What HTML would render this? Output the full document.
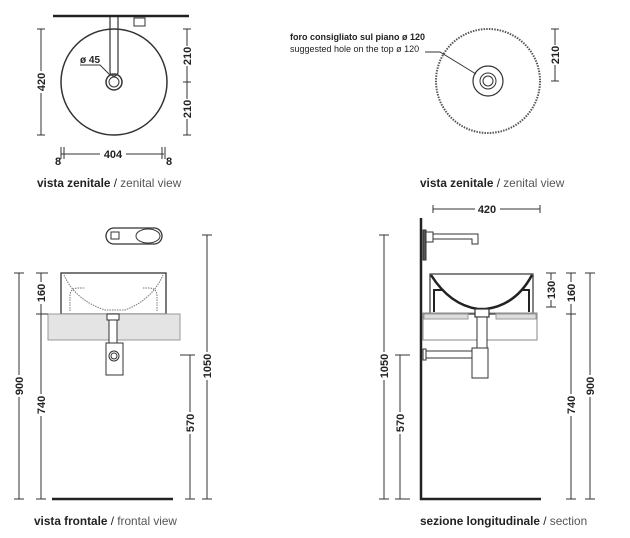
<!DOCTYPE html>
<html><head><meta charset="utf-8"><style>
body{margin:0;background:#fff;width:630px;height:538px;overflow:hidden}
svg{display:block}
text{font-family:"Liberation Sans",sans-serif;fill:#222}
.d{font-size:11px;font-weight:bold;fill:#333}
.c{font-size:11.8px}
</style></head><body>
<svg width="630" height="538" viewBox="0 0 630 538" xmlns="http://www.w3.org/2000/svg">
<g stroke="#333" fill="none" stroke-width="1">
<line x1="53" y1="16" x2="189" y2="16" stroke-width="2.5" stroke="#222"/>
<circle cx="114" cy="82" r="53" stroke-width="1.5"/>
<path d="M110 17 V72 A4 4 0 0 0 118 72 V17" stroke-width="1.2"/>
<circle cx="114" cy="82" r="8" stroke-width="1.5"/>
<circle cx="114" cy="82" r="5" stroke-width="1"/>
<rect x="134" y="18" width="11" height="8"/>
<path d="M80 65 H100 L110 75" />
<line x1="41" y1="29" x2="41" y2="135"/><line x1="37" y1="29" x2="45" y2="29"/><line x1="37" y1="135" x2="45" y2="135"/>
<line x1="187" y1="29" x2="187" y2="135"/><line x1="183" y1="29" x2="191" y2="29"/><line x1="183" y1="82" x2="191" y2="82"/><line x1="183" y1="135" x2="191" y2="135"/>
<line x1="61" y1="154" x2="164" y2="154"/><line x1="61" y1="147" x2="61" y2="159"/><line x1="64" y1="147" x2="64" y2="159"/><line x1="162" y1="147" x2="162" y2="159"/><line x1="165" y1="147" x2="165" y2="159"/>
<circle cx="488" cy="81" r="52" stroke-dasharray="1.5 1.2" stroke-width="2" stroke="#555"/>
<circle cx="488" cy="81" r="15" stroke-width="1.2"/>
<circle cx="488" cy="81" r="8"/>
<circle cx="488" cy="81" r="5"/>
<path d="M425 52 H440 L476 74"/>
<line x1="555" y1="29" x2="555" y2="81"/><line x1="551" y1="29" x2="559" y2="29"/><line x1="551" y1="81" x2="559" y2="81"/>
<rect x="106" y="228" width="56" height="16" rx="8" stroke-width="1.3"/>
<rect x="111" y="232" width="8" height="7"/>
<ellipse cx="148" cy="236" rx="12" ry="7"/>
<rect x="61" y="273" width="105" height="41" stroke-width="1.3"/>
<path d="M64 275 Q75 300 105 310 H125 Q152 300 163 275" stroke-dasharray="1.5 1" stroke="#777"/>
<path d="M70 311 V296 Q70 288 78 288 H85 M157 311 V296 Q157 288 149 288 H142" stroke-dasharray="1.5 1" stroke="#777"/>
<rect x="48" y="314" width="132" height="26" fill="#e4e4e4" stroke="#999"/>
<rect x="107" y="314" width="12" height="6" fill="#fff"/>
<rect x="109" y="320" width="8" height="23" fill="#fff"/>
<rect x="106" y="343" width="17" height="32" fill="#fff"/>
<circle cx="114" cy="356" r="5"/><circle cx="114" cy="356" r="3"/>
<line x1="52" y1="499" x2="173" y2="499" stroke-width="2.5" stroke="#222"/>
<line x1="19" y1="273" x2="19" y2="499"/><line x1="14" y1="273" x2="24" y2="273"/><line x1="14" y1="499" x2="24" y2="499"/>
<line x1="41" y1="273" x2="41" y2="499"/><line x1="36" y1="273" x2="48" y2="273"/><line x1="36" y1="314" x2="48" y2="314"/><line x1="36" y1="499" x2="46" y2="499"/>
<line x1="190" y1="355" x2="190" y2="499"/><line x1="180" y1="355" x2="195" y2="355"/><line x1="185" y1="499" x2="195" y2="499"/>
<line x1="207" y1="235" x2="207" y2="499"/><line x1="202" y1="235" x2="212" y2="235"/><line x1="202" y1="499" x2="212" y2="499"/>
<line x1="421" y1="218" x2="421" y2="500" stroke-width="2.5" stroke="#222"/>
<line x1="420" y1="499" x2="541" y2="499" stroke-width="2.5" stroke="#222"/>
<rect x="423" y="230" width="3" height="30" fill="#555"/>
<rect x="426" y="232" width="7" height="10"/>
<path d="M433 234 H478 V244 H472 V239 H433"/>
<rect x="430" y="274" width="103" height="40" stroke-width="1.2"/>
<path d="M431 275 Q450 305 478 309 H486 Q516 305 532 275" stroke-width="2.5" stroke="#222"/>
<path d="M434 312 V290 H442 M529 312 V290 H521" stroke-width="2" stroke="#222"/>
<rect x="423" y="313" width="114" height="27" stroke="#888"/>
<rect x="424" y="314" width="44" height="5" fill="#ddd" stroke="#999"/>
<rect x="496" y="314" width="40" height="5" fill="#ddd" stroke="#999"/>
<rect x="475" y="309" width="14" height="8" fill="#fff" stroke-width="1.2"/>
<rect x="477" y="317" width="10" height="31" fill="#fff"/>
<rect x="472" y="348" width="16" height="30" fill="#fff"/>
<rect x="425" y="351" width="47" height="7" fill="#fff"/>
<rect x="423" y="349" width="3" height="11" fill="#fff"/>
<line x1="433" y1="209" x2="540" y2="209"/><line x1="433" y1="205" x2="433" y2="213"/><line x1="540" y1="205" x2="540" y2="213"/>
<line x1="551" y1="273" x2="551" y2="307"/><line x1="546" y1="273" x2="556" y2="273"/><line x1="546" y1="307" x2="556" y2="307"/>
<line x1="571" y1="273" x2="571" y2="499"/><line x1="566" y1="273" x2="576" y2="273"/><line x1="566" y1="314" x2="576" y2="314"/><line x1="566" y1="499" x2="576" y2="499"/>
<line x1="590" y1="273" x2="590" y2="499"/><line x1="585" y1="273" x2="595" y2="273"/><line x1="585" y1="499" x2="595" y2="499"/>
<line x1="384" y1="235" x2="384" y2="499"/><line x1="379" y1="235" x2="389" y2="235"/><line x1="379" y1="499" x2="389" y2="499"/>
<line x1="400" y1="355" x2="400" y2="499"/><line x1="395" y1="355" x2="410" y2="355"/><line x1="395" y1="499" x2="410" y2="499"/>
</g>
<g class="d">
<text x="80" y="63" font-size="10">ø 45</text>
<g transform="translate(45,82) rotate(-90)"><rect x="-11" y="-9" width="22" height="11" fill="#fff"/><text x="0" y="0" text-anchor="middle">420</text></g>
<g transform="translate(191,56) rotate(-90)"><rect x="-10" y="-9" width="20" height="11" fill="#fff"/><text x="0" y="0" text-anchor="middle">210</text></g>
<g transform="translate(191,109) rotate(-90)"><rect x="-10" y="-9" width="20" height="11" fill="#fff"/><text x="0" y="0" text-anchor="middle">210</text></g>
<rect x="100" y="148" width="26" height="12" fill="#fff"/><text x="113" y="158" text-anchor="middle">404</text>
<text x="55" y="165">8</text><text x="166" y="165">8</text>
<g transform="translate(559,55) rotate(-90)"><rect x="-10" y="-9" width="20" height="11" fill="#fff"/><text x="0" y="0" text-anchor="middle">210</text></g>
<g transform="translate(23,386) rotate(-90)"><rect x="-11" y="-9" width="22" height="11" fill="#fff"/><text x="0" y="0" text-anchor="middle">900</text></g>
<g transform="translate(45,293) rotate(-90)"><rect x="-11" y="-9" width="22" height="11" fill="#fff"/><text x="0" y="0" text-anchor="middle">160</text></g>
<g transform="translate(45,405) rotate(-90)"><rect x="-11" y="-9" width="22" height="11" fill="#fff"/><text x="0" y="0" text-anchor="middle">740</text></g>
<g transform="translate(194,423) rotate(-90)"><rect x="-11" y="-9" width="22" height="11" fill="#fff"/><text x="0" y="0" text-anchor="middle">570</text></g>
<g transform="translate(211,366) rotate(-90)"><rect x="-14" y="-9" width="28" height="11" fill="#fff"/><text x="0" y="0" text-anchor="middle">1050</text></g>
<rect x="475" y="203" width="25" height="12" fill="#fff"/><text x="487" y="213" text-anchor="middle">420</text>
<g transform="translate(555,290) rotate(-90)"><rect x="-10" y="-9" width="20" height="11" fill="#fff"/><text x="0" y="0" text-anchor="middle">130</text></g>
<g transform="translate(575,293) rotate(-90)"><rect x="-11" y="-9" width="22" height="11" fill="#fff"/><text x="0" y="0" text-anchor="middle">160</text></g>
<g transform="translate(575,405) rotate(-90)"><rect x="-11" y="-9" width="22" height="11" fill="#fff"/><text x="0" y="0" text-anchor="middle">740</text></g>
<g transform="translate(594,386) rotate(-90)"><rect x="-11" y="-9" width="22" height="11" fill="#fff"/><text x="0" y="0" text-anchor="middle">900</text></g>
<g transform="translate(388,366) rotate(-90)"><rect x="-14" y="-9" width="28" height="11" fill="#fff"/><text x="0" y="0" text-anchor="middle">1050</text></g>
<g transform="translate(404,423) rotate(-90)"><rect x="-11" y="-9" width="22" height="11" fill="#fff"/><text x="0" y="0" text-anchor="middle">570</text></g>
</g>
<text x="290" y="40" font-size="9" font-weight="bold">foro consigliato sul piano ø 120</text>
<text x="290" y="52" font-size="9" fill="#444">suggested hole on the top ø 120</text>
<text class="c" x="37" y="187"><tspan font-weight="bold">vista zenitale</tspan> / <tspan fill="#555">zenital view</tspan></text>
<text class="c" x="420" y="187"><tspan font-weight="bold">vista zenitale</tspan> / <tspan fill="#555">zenital view</tspan></text>
<text class="c" x="34" y="525"><tspan font-weight="bold">vista frontale</tspan> / <tspan fill="#555">frontal view</tspan></text>
<text class="c" x="420" y="525"><tspan font-weight="bold">sezione longitudinale</tspan> / <tspan fill="#555">section</tspan></text>
</svg>
</body></html>
